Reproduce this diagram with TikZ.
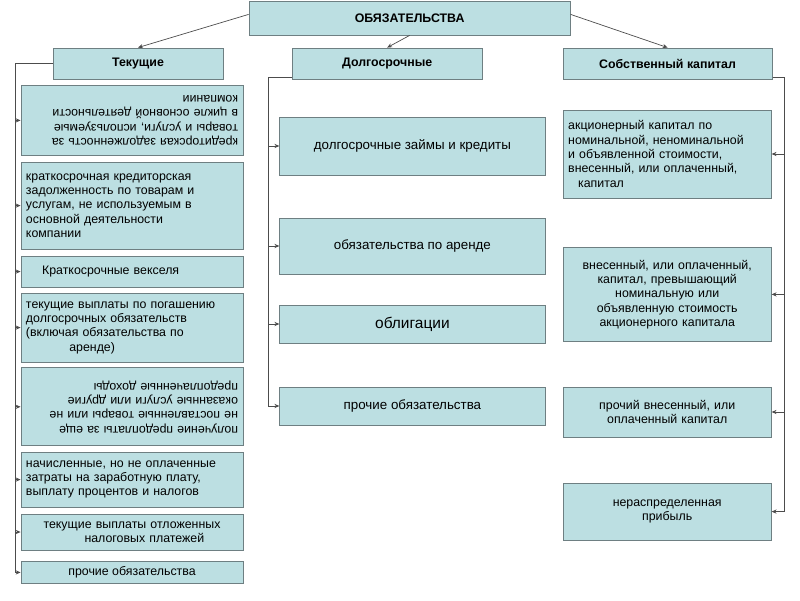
\documentclass[tikz,border=0pt]{standalone}
\usepackage{fontspec}
\setmainfont{Liberation Sans}
\usetikzlibrary{arrows.meta}
\definecolor{boxfill}{HTML}{BCDFE2}
\definecolor{boxline}{HTML}{6E7F82}
\tikzset{
  box/.style={draw=boxline, fill=boxfill, line width=0.6pt, inner sep=2pt, font=\fontsize{8.8}{10.2}\selectfont},
  head/.style={box, font=\fontsize{8.8}{10}\selectfont\bfseries, align=center},
  link/.style={draw=black!70, line width=0.5pt, -{Stealth[length=3.5pt,width=3pt]}},
  spine/.style={draw=black!70, line width=0.5pt}
}
\begin{document}
\begin{tikzpicture}
  \useasboundingbox (0,0) rectangle (20,15);
  % headers
  \node[head, minimum width=8.03cm, minimum height=0.83cm] (top) at (10.24,14.54) {ОБЯЗАТЕЛЬСТВА};
  \node[head, minimum width=4.25cm, minimum height=0.78cm] (cur) at (3.45,13.41) {Текущие};
  \node[head, minimum width=4.75cm, minimum height=0.78cm] (long) at (9.68,13.41) {Долгосрочные};
  \node[head, minimum width=5.23cm, minimum height=0.78cm] (eq) at (16.69,13.41) {Собственный капитал};
  % current liabilities
  \node[box, minimum width=5.55cm, minimum height=1.73cm, text width=5.3cm, align=left, rotate=180] (c1) at (3.3,11.99)
    {кредиторская задолженность за\\товары и услуги, используемые\\в цикле основной деятельности\\компании};
  \node[box, minimum width=5.55cm, minimum height=2.18cm, text width=5.3cm, align=left] (c2) at (3.3,9.86)
    {краткосрочная кредиторская\\задолженность по товарам и\\услугам, не используемым в\\основной деятельности\\компании};
  \node[box, minimum width=5.55cm, minimum height=0.78cm, text width=5.3cm, align=left] (c3) at (3.3,8.21)
    {\hspace*{1.3em}Краткосрочные векселя};
  \node[box, minimum width=5.55cm, minimum height=1.73cm, text width=5.3cm, align=left] (c4) at (3.3,6.81)
    {текущие выплаты по погашению\\долгосрочных обязательств\\(включая обязательства по\\\hspace*{3.5em}аренде)};
  \node[box, minimum width=5.55cm, minimum height=1.95cm, text width=5.3cm, align=left, rotate=180] (c5) at (3.3,4.83)
    {получение предоплаты за еще\\не поставленные товары или не\\оказанные услуги или другие\\предоплаченные доходы};
  \node[box, minimum width=5.55cm, minimum height=1.38cm, text width=5.3cm, align=left] (c6) at (3.3,3.01)
    {начисленные, но не оплаченные\\затраты на заработную плату,\\выплату процентов и налогов};
  \node[box, minimum width=5.55cm, minimum height=0.9cm, text width=5.3cm, align=center] (c7) at (3.3,1.70)
    {текущие выплаты отложенных\\\hspace*{2em}налоговых платежей};
  \node[box, minimum width=5.55cm, minimum height=0.53cm, align=center] (c8) at (3.3,0.69)
    {прочие обязательства};
  % long-term liabilities
  \node[box, minimum width=6.63cm, minimum height=1.45cm, font=\fontsize{9.5}{11}\selectfont] (l1) at (10.31,11.35) {долгосрочные займы и кредиты};
  \node[box, minimum width=6.63cm, minimum height=1.4cm, font=\fontsize{9.5}{11}\selectfont] (l2) at (10.31,8.85) {обязательства по аренде};
  \node[box, minimum width=6.63cm, minimum height=0.95cm, font=\fontsize{11}{12}\selectfont] (l3) at (10.31,6.9) {облигации};
  \node[box, minimum width=6.63cm, minimum height=0.95cm, font=\fontsize{9.5}{11}\selectfont] (l4) at (10.31,4.85) {прочие обязательства};
  % equity
  \node[box, minimum width=5.2cm, minimum height=2.2cm, text width=4.95cm, align=left] (e1) at (16.68,11.15)
    {акционерный капитал по\\номинальной, неноминальной\\и объявленной стоимости,\\внесенный, или оплаченный,\\\hspace*{0.8em}капитал};
  \node[box, minimum width=5.2cm, minimum height=2.33cm, text width=4.95cm, align=center] (e2) at (16.68,7.64)
    {внесенный, или оплаченный,\\капитал, превышающий\\номинальную или\\объявленную стоимость\\акционерного капитала};
  \node[box, minimum width=5.2cm, minimum height=1.25cm, text width=4.95cm, align=center] (e3) at (16.68,4.7)
    {прочий внесенный, или\\оплаченный капитал};
  \node[box, minimum width=5.2cm, minimum height=1.43cm, text width=4.95cm, align=center] (e4) at (16.68,2.21)
    {нераспределенная\\прибыль};
  % links from the top
  \draw[link] (top.west) ++(0,0.1) -- (cur.north);
  \draw[link] (top.south) -- (long.north);
  \draw[link] (top.east) ++(0,0.1) -- (eq.north);
  % spines
  \coordinate (cs) at (0.375,13.41);
  \coordinate (ls) at (6.7,13.06);
  \coordinate (es) at (19.6,13.06);
  \draw[spine] (cur.west) -- (cs) -- (cs |- c8.west);
  \draw[spine] (long.west |- ls) -- (ls) -- (ls |- l4.west);
  \draw[spine] (eq.east |- es) -- (es) -- (es |- e4.east);
  \foreach \n in {c1,c2,c3,c4,c5,c6,c7,c8}
    \draw[link] (cs |- \n.center) -- (\n.center -| c8.west);
  \foreach \n in {l1,l2,l3,l4}
    \draw[link] (ls |- \n.center) -- (\n.center -| l1.west);
  \foreach \n in {e1,e2,e3,e4}
    \draw[link] (es |- \n.center) -- (\n.center -| e1.east);
\end{tikzpicture}
\end{document}
